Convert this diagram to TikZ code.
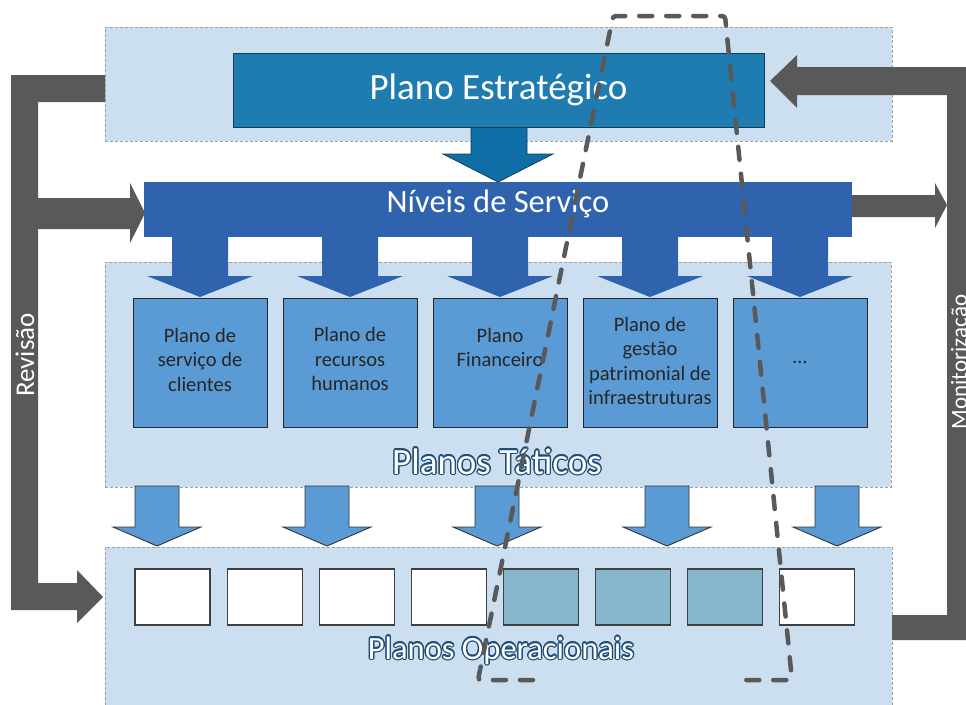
\documentclass[tikz,border=0pt]{standalone}
\usepackage{fontspec}
\setmainfont{Carlito}
\usepackage{contour}
\contourlength{1.3pt}
\definecolor{regionfill}{HTML}{CCDFF0}
\definecolor{regionline}{HTML}{A0A0A0}
\definecolor{estratblue}{HTML}{1F7CB0}
\definecolor{estratarrow}{HTML}{0E6EA5}
\definecolor{nivelblue}{HTML}{3063AE}
\definecolor{taticblue}{HTML}{5B9BD5}
\definecolor{opteal}{HTML}{86B6CC}
\definecolor{arrowgray}{HTML}{595959}
\definecolor{labelblue}{HTML}{1F4E79}

\begin{document}
\begin{tikzpicture}[x=1pt,y=-1pt,
  region/.style={draw=regionline,fill=regionfill,line width=.8pt,dash pattern=on 3pt off 2pt,inner sep=0pt},
  tatbox/.style={draw=black!85,fill=taticblue,line width=1pt,minimum width=134pt,minimum height=129pt,inner sep=0pt,align=center,font=\fontsize{20.5}{24.5}\selectfont,text=black!85},
  opbox/.style={draw=black!75,line width=1.1pt,minimum width=75pt,minimum height=56pt,inner sep=0pt},
  levellabel/.style={text=white,font=\fontsize{37}{40}\selectfont},
  sidelabel/.style={rotate=90,text=white}]

\useasboundingbox (0,0) rectangle (966,704);
\clip (0,0) rectangle (966,704);

\node[region,minimum width=787pt,minimum height=114pt] (estreg) at (498.5,84) {};
\node[region,minimum width=786pt,minimum height=225pt] (tatreg) at (498,374.5) {};
\node[region,minimum width=787pt,minimum height=161pt] (opreg) at (498.5,627.5) {};

% revisao / monitorizacao
\fill[arrowgray] (11,75) -- (105,75) -- (105,102) -- (38,102) -- (38,198) -- (130,198) -- (130,183) -- (145,213) -- (130,243) -- (130,229) -- (38,229) -- (38,583) -- (77,583) -- (77,570) -- (103,597) -- (77,623) -- (77,610) -- (11,610) -- cycle;
\fill[arrowgray] (892,615) -- (947,615) -- (947,95) -- (797,95) -- (797,108) -- (770,81) -- (797,55) -- (797,67) -- (975,67) -- (975,640) -- (892,640) -- cycle;
\fill[arrowgray] (850,195) -- (935,195) -- (935,183) -- (947,205) -- (935,228) -- (935,217) -- (850,217) -- cycle;

\filldraw[fill=estratarrow,draw=estratblue!50!black,line width=.8pt] (471,125) -- (471,154) -- (443,154) -- (498,182) -- (553,154) -- (527,154) -- (527,125);
\node[draw=estratblue!50!black,fill=estratblue,line width=.8pt,minimum width=531pt,minimum height=74pt,text=white,font=\fontsize{37}{40}\selectfont] (estrat) at (498.5,90) {Plano Estratégico};

\node[fill=nivelblue,minimum width=708pt,minimum height=55pt,inner sep=0pt,
  label={[text=white,font=\fontsize{32.5}{36}\selectfont,yshift=6pt]center:Níveis de Serviço}] (niveis) at (498,209.5) {};
\foreach \x in {200,350,500,650,800}
  \fill[nivelblue] (\x-28,236) -- (\x-28,276) -- (\x-53,276) -- (\x,297) -- (\x+53,276) -- (\x+28,276) -- (\x+28,236) -- cycle;

\node[tatbox] (tat1) at (200,362.5) {Plano de\\serviço de\\clientes\vspace{6pt}};
\node[tatbox] (tat2) at (350,362.5) {Plano de\\recursos\\humanos\vspace{7pt}};
\node[tatbox] (tat3) at (500,362.5) {Plano\\Financeiro\\\mbox{}\vspace{6pt}};
\node[tatbox] (tat4) at (650,362.5) {Plano de\\gestão\\patrimonial de\\infraestruturas\vspace{3pt}};
\node[tatbox] (tat5) at (800,362.5) {\dots};
\node[levellabel] (lbltat) at (497,462) {\contour{labelblue}{Planos Táticos}};

\foreach \x in {157,327,497,667,837}
  \filldraw[fill=taticblue,draw=black!80,line width=.9pt] (\x-22,486) -- (\x+22,486) -- (\x+22,527) -- (\x+44,527) -- (\x,546) -- (\x-44,527) -- (\x-22,527) -- cycle;

\foreach \i/\c in {1/white,2/white,3/white,4/white,5/opteal,6/opteal,7/opteal,8/white}
  \node[opbox,fill=\c] (op\i) at ({172.5+92.1*(\i-1)},597) {};
\node[levellabel,font=\fontsize{32.5}{36}\selectfont] (lblop) at (501,651) {\contour{labelblue}{Planos Operacionais}};

\draw[arrowgray,line width=4.5pt,line cap=round,dash pattern=on 13pt off 14pt,rounded corners=3pt] (533,680) -- (478,680) -- (613,16) -- (725,16) -- (792,680) -- (740,680);

\node[sidelabel,font=\fontsize{27}{30}\selectfont] (revisao) at (25,355) {Revisão};
\node[sidelabel,font=\fontsize{23}{26}\selectfont] (monit) at (961,362) {Monitorização};
\end{tikzpicture}
\end{document}
